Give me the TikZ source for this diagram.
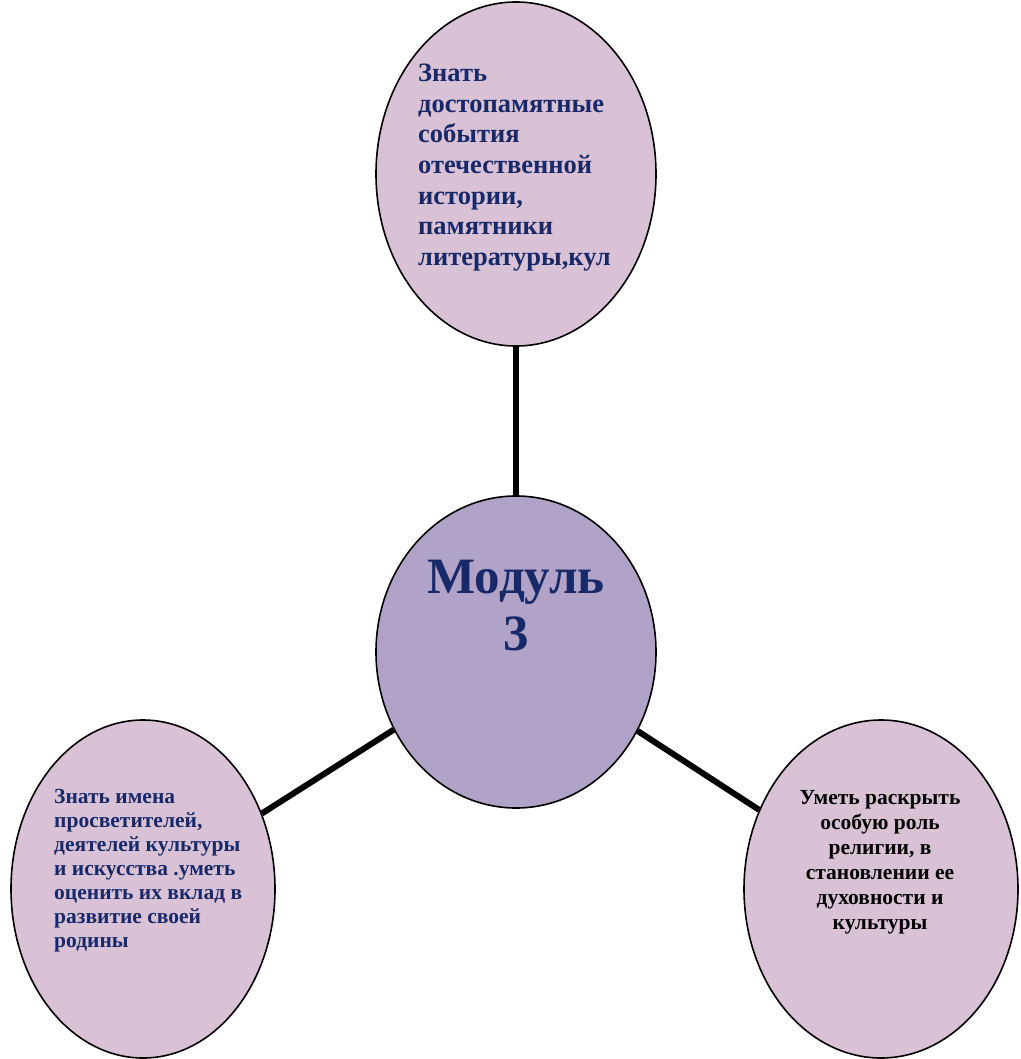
\documentclass[tikz,border=0pt]{standalone}
\usepackage{fontspec}
\setmainfont{Liberation Serif}
\usetikzlibrary{shapes.geometric}

\definecolor{rosefill}{RGB}{217,194,213}
\definecolor{modfill}{RGB}{177,162,199}
\definecolor{navytext}{RGB}{24,41,105}

\tikzset{
  bubble/.style={shape=ellipse, draw, line width=1.6pt, fill=rosefill, inner sep=0pt},
  link/.style={line width=6pt},
  txt/.style={font=\bfseries, inner sep=0pt}
}

\begin{document}
\begin{tikzpicture}[x=1pt,y=-1pt]
\useasboundingbox (0,0) rectangle (1020,1059);
\node (top) at (516,174) [bubble, minimum width=280pt, minimum height=344pt]{};
\node (mod) at (516,652) [bubble, fill=modfill, minimum width=280pt, minimum height=312pt]{};
\node (left) at (143,889) [bubble, minimum width=264pt, minimum height=338pt]{};
\node (right) at (881,889) [bubble, minimum width=274pt, minimum height=338pt]{};
\draw[link] (top) -- (mod);
\draw[link] (mod) -- (left);
\draw[link] (mod) -- (right);
\node (toptxt) at (418,64) [txt, anchor=north west, text=navytext, align=left, font=\fontsize{26.5}{30.6}\selectfont\bfseries]
  {Знать\\достопамятные\\события\\отечественной\\истории,\\памятники\\литературы,кул};
\node (modtxt) at (516,606) [txt, text=navytext, align=center, font=\fontsize{51}{57}\selectfont\bfseries]
  {Модуль\\3};
\node (lefttxt) at (54,789) [txt, anchor=north west, text=navytext, align=left, font=\fontsize{21.5}{24}\selectfont\bfseries]
  {Знать имена\\просветителей,\\деятелей культуры\\и искусства .уметь\\оценить их вклад в\\развитие своей\\родины};
\node (righttxt) at (880,862) [txt, align=center, font=\fontsize{21.5}{25}\selectfont\bfseries]
  {Уметь раскрыть\\особую роль\\религии, в\\становлении ее\\духовности и\\культуры};
\end{tikzpicture}
\end{document}
